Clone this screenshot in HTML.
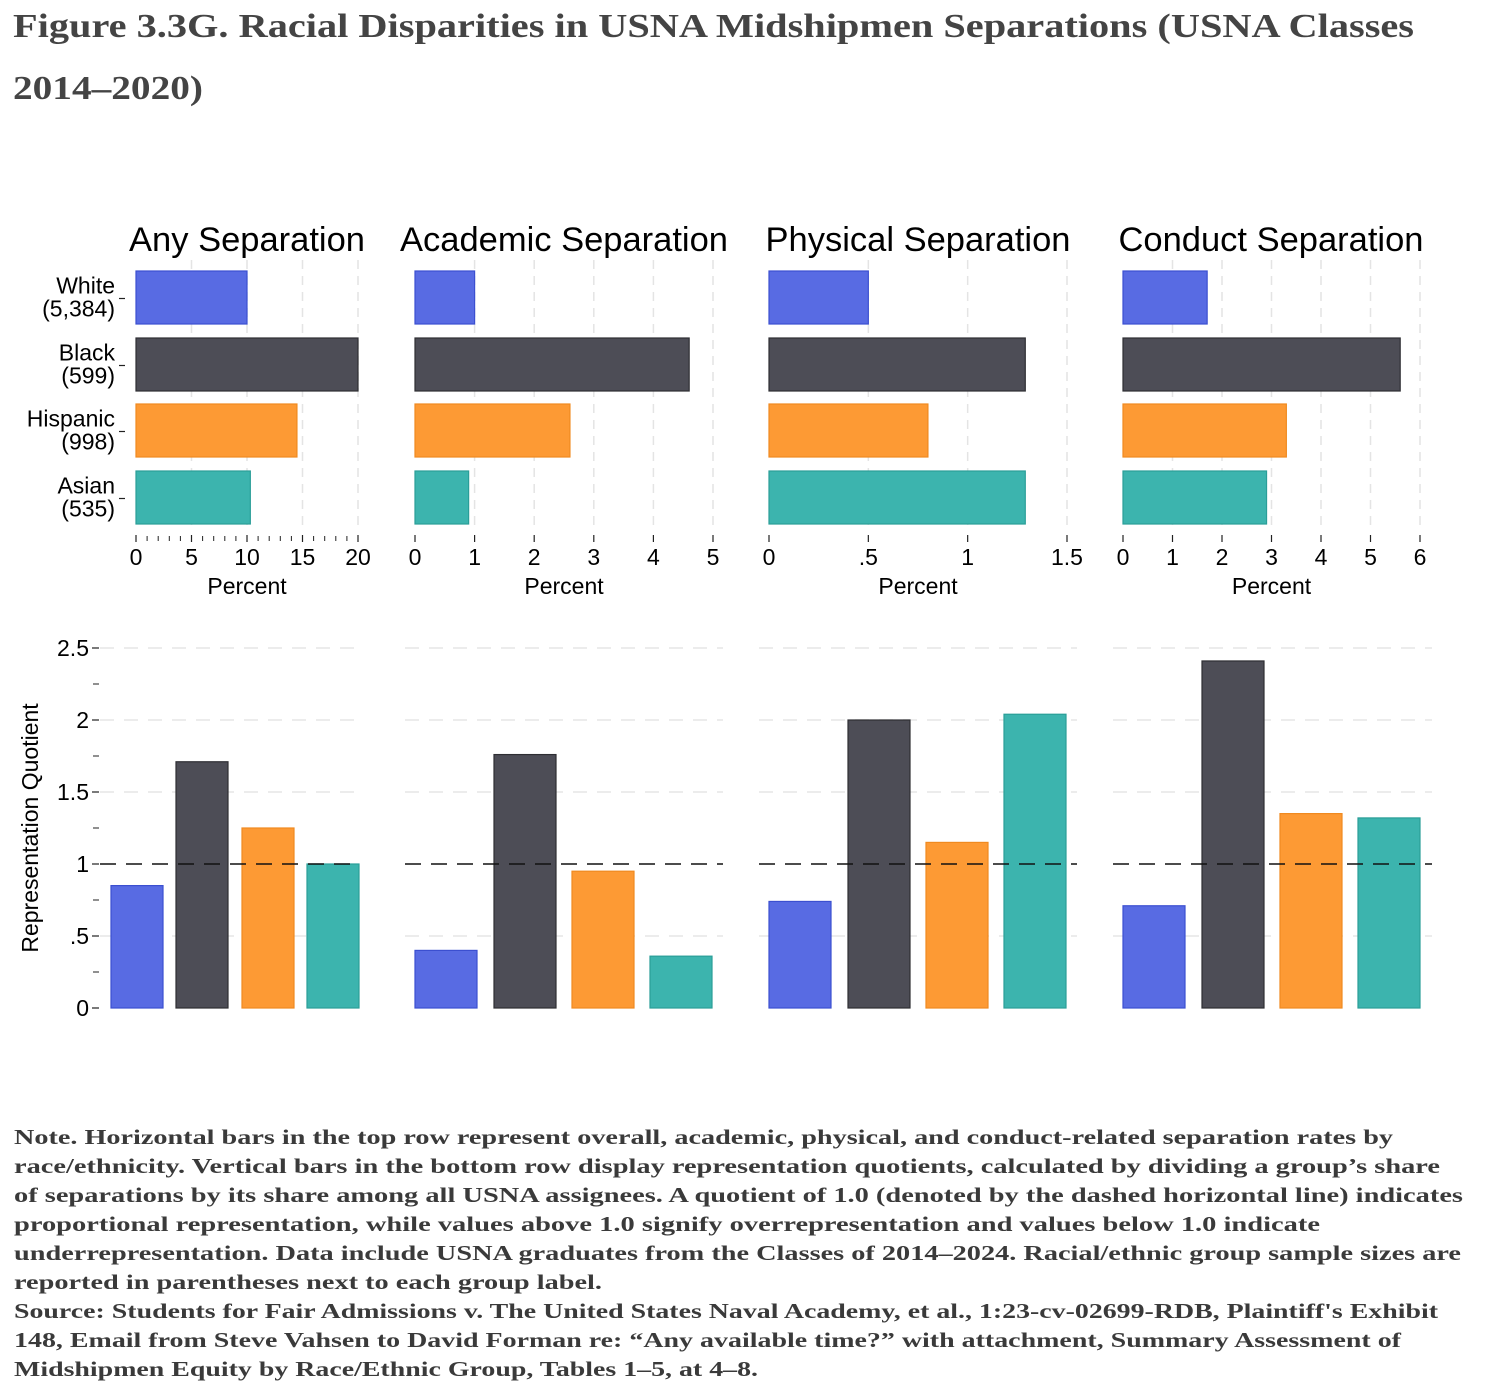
<!DOCTYPE html>
<html><head><meta charset="utf-8">
<style>
html,body{margin:0;padding:0;background:#fff;}
svg{display:block;}
.sans{font-family:"Liberation Sans",sans-serif;}
</style></head>
<body>
<svg id="chart" width="1490" height="1396" viewBox="0 0 1490 1396" xmlns="http://www.w3.org/2000/svg">
<g font-family="'Liberation Serif',serif" font-weight="bold" font-size="34" fill="#444">
<text x="13" y="37" textLength="1401" lengthAdjust="spacingAndGlyphs">Figure 3.3G. Racial Disparities in USNA Midshipmen Separations (USNA Classes</text>
<text x="13" y="99" textLength="190" lengthAdjust="spacingAndGlyphs">2014–2020)</text>
</g>
<g id="plots"></g>
<g font-family="'Liberation Serif',serif" font-weight="bold" font-size="21" fill="#3a3a3a">
<text x="14" y="1144" textLength="1379" lengthAdjust="spacingAndGlyphs">Note. Horizontal bars in the top row represent overall, academic, physical, and conduct-related separation rates by</text>
<text x="14" y="1173" textLength="1426" lengthAdjust="spacingAndGlyphs">race/ethnicity. Vertical bars in the bottom row display representation quotients, calculated by dividing a group’s share</text>
<text x="14" y="1202" textLength="1449" lengthAdjust="spacingAndGlyphs">of separations by its share among all USNA assignees. A quotient of 1.0 (denoted by the dashed horizontal line) indicates</text>
<text x="14" y="1231" textLength="1306" lengthAdjust="spacingAndGlyphs">proportional representation, while values above 1.0 signify overrepresentation and values below 1.0 indicate</text>
<text x="14" y="1260" textLength="1447" lengthAdjust="spacingAndGlyphs">underrepresentation. Data include USNA graduates from the Classes of 2014–2024. Racial/ethnic group sample sizes are</text>
<text x="14" y="1289" textLength="588" lengthAdjust="spacingAndGlyphs">reported in parentheses next to each group label.</text>
<text x="14" y="1318" textLength="1424" lengthAdjust="spacingAndGlyphs">Source: Students for Fair Admissions v. The United States Naval Academy, et al., 1:23-cv-02699-RDB, Plaintiff's Exhibit</text>
<text x="14" y="1347" textLength="1387" lengthAdjust="spacingAndGlyphs">148, Email from Steve Vahsen to David Forman re: “Any available time?” with attachment, Summary Assessment of</text>
<text x="14" y="1376" textLength="744" lengthAdjust="spacingAndGlyphs">Midshipmen Equity by Race/Ethnic Group, Tables 1–5, at 4–8.</text>
</g>
</svg>
<script>
// ---- data ----
const groups = ["White","Black","Hispanic","Asian"];
const groupSizes = ["(5,384)","(599)","(998)","(535)"];
const panelTitles = ["Any Separation","Academic Separation","Physical Separation","Conduct Separation"];
const anyPct = [10.0, 20.0, 14.5, 10.3];
const academicPct = [1.0, 4.6, 2.6, 0.9];
const physicalPct = [0.5, 1.29, 0.8, 1.29];
const conductPct = [1.7, 5.6, 3.3, 2.9];
const anyRQ = [0.85, 1.71, 1.25, 1.0];
const academicRQ = [0.40, 1.76, 0.95, 0.36];
const physicalRQ = [0.74, 2.0, 1.15, 2.04];
const conductRQ = [0.71, 2.41, 1.35, 1.32];
const xMax = [20, 5, 1.5, 6];
const xTicks = [[0,5,10,15,20],[0,1,2,3,4,5],[0,0.5,1,1.5],[0,1,2,3,4,5,6]];
const xTickLabels = [["0","5","10","15","20"],["0","1","2","3","4","5"],["0",".5","1","1.5"],["0","1","2","3","4","5","6"]];
const yTicks = [0,0.5,1,1.5,2,2.5];
const yTickLabels = ["0",".5","1","1.5","2","2.5"];
const refLine = 1;

// ---- layout ----
const pctData=[anyPct,academicPct,physicalPct,conductPct];
const rqData=[anyRQ,academicRQ,physicalRQ,conductRQ];
const colors=["#586be3","#4d4d56","#fd9a34","#3cb4ae"];
const strokes=["#3b4fd0","#2e2e33","#f08a20","#2a9e98"];
const NS="http://www.w3.org/2000/svg";
const root=document.getElementById('plots');
function mk(tag,attrs,parent,text){const e=document.createElementNS(NS,tag);for(const k in attrs)e.setAttribute(k,attrs[k]);if(text!==undefined)e.textContent=text;(parent||root).appendChild(e);return e;}
const hx0=[136,415,769,1123], hx1=[358,713,1067,1420];
const rowTop=[271,338,404,471], rowH=53;
const titleCx=[247,564,918,1271];
const FS=23;
for(let p=0;p<4;p++){
  const g=mk('g',{class:'sans'});
  
  
  const sx=v=>hx0[p]+(hx1[p]-hx0[p])*v/xMax[p];
  xTicks[p].forEach((t,i)=>{
    if(t>0){const gl=mk('line',{x1:sx(t),x2:sx(t),y1:260,y2:530,stroke:'#e4e4e4','stroke-width':1.5,'stroke-dasharray':'9 7'},g);
      }
    const tk=mk('line',{x1:sx(t),x2:sx(t),y1:535,y2:542,stroke:'#222','stroke-width':1.2},g);
    
    const tl=mk('text',{x:sx(t),y:565,'font-size':FS,'text-anchor':'middle',fill:'#000'},g,xTickLabels[p][i]);
    
  });
  if(p===0){for(let t=1;t<20;t++){if(t%5===0)continue;const mt=mk('line',{x1:sx(t),x2:sx(t),y1:536,y2:541,stroke:'#222','stroke-width':1},g);
    }}
  const ttl=mk('text',{x:titleCx[p],y:251,'font-size':34.5,'text-anchor':'middle',fill:'#000'},g,panelTitles[p]);
  
  const xl=mk('text',{x:(hx0[p]+hx1[p])/2,y:594,'font-size':FS,'text-anchor':'middle',fill:'#000'},g,'Percent');
  
  pctData[p].forEach((v,i)=>{
    const r=mk('rect',{x:hx0[p],y:rowTop[i],width:sx(v)-hx0[p],height:rowH,fill:colors[i],stroke:strokes[i],'stroke-width':1.2},g);
    
  });
}
groups.forEach((gname,i)=>{
  const cy=rowTop[i]+rowH/2;
  const t=mk('text',{x:115,y:cy-4,'font-size':FS,'text-anchor':'end',fill:'#000',class:'sans'},root,gname);
  
  const t2=mk('text',{x:115,y:cy+19,'font-size':FS,'text-anchor':'end',fill:'#000',class:'sans'},root,groupSizes[i]);
  
  const tk=mk('line',{x1:119,x2:125,y1:cy+1,y2:cy+1,stroke:'#222','stroke-width':1.2});
  
});
const y0=1008, pxPerUnit=144;
const sy=v=>y0-v*pxPerUnit;
const bx0=[[111,176,242,307],[415,494,572,650],[769,848,926,1004],[1123,1202,1280,1358]];
const bw=[52,62,62,62];
const lineSpan=[[100,359],[405,723],[759,1077],[1113,1432]];
yTicks.forEach((t,i)=>{
  const tk=mk('line',{x1:92,x2:99,y1:sy(t),y2:sy(t),stroke:'#222','stroke-width':1.2});
  
  const tl=mk('text',{x:89,y:sy(t)+8,'font-size':FS,'text-anchor':'end',fill:'#000',class:'sans'},root,yTickLabels[i]);
  
  if(i<yTicks.length-1){const mt=mk('line',{x1:93,x2:99,y1:sy(t+0.25),y2:sy(t+0.25),stroke:'#222','stroke-width':1});
    }
});
const yt=mk('text',{x:0,y:0,'font-size':FS,'text-anchor':'middle',fill:'#000',class:'sans',transform:'translate(38,828) rotate(-90)'},root,'Representation Quotient');

for(let p=0;p<4;p++){
  const g=mk('g');
  
  
  yTicks.forEach(t=>{if(t===0||t===refLine)return;
    const gl=mk('line',{x1:lineSpan[p][0],x2:lineSpan[p][1],y1:sy(t),y2:sy(t),stroke:'#e6e6e6','stroke-width':1.5,'stroke-dasharray':'14 10'},g);
    });
  rqData[p].forEach((v,i)=>{
    const r=mk('rect',{x:bx0[p][i],y:sy(v),width:bw[p],height:v*pxPerUnit,fill:colors[i],stroke:strokes[i],'stroke-width':1.2},g);
    
  });
  const rl=mk('line',{x1:lineSpan[p][0],x2:lineSpan[p][1],y1:sy(refLine),y2:sy(refLine),stroke:'#111','stroke-width':1.5,'stroke-dasharray':'16 10'},g);
  
}
</script>
</body></html>
